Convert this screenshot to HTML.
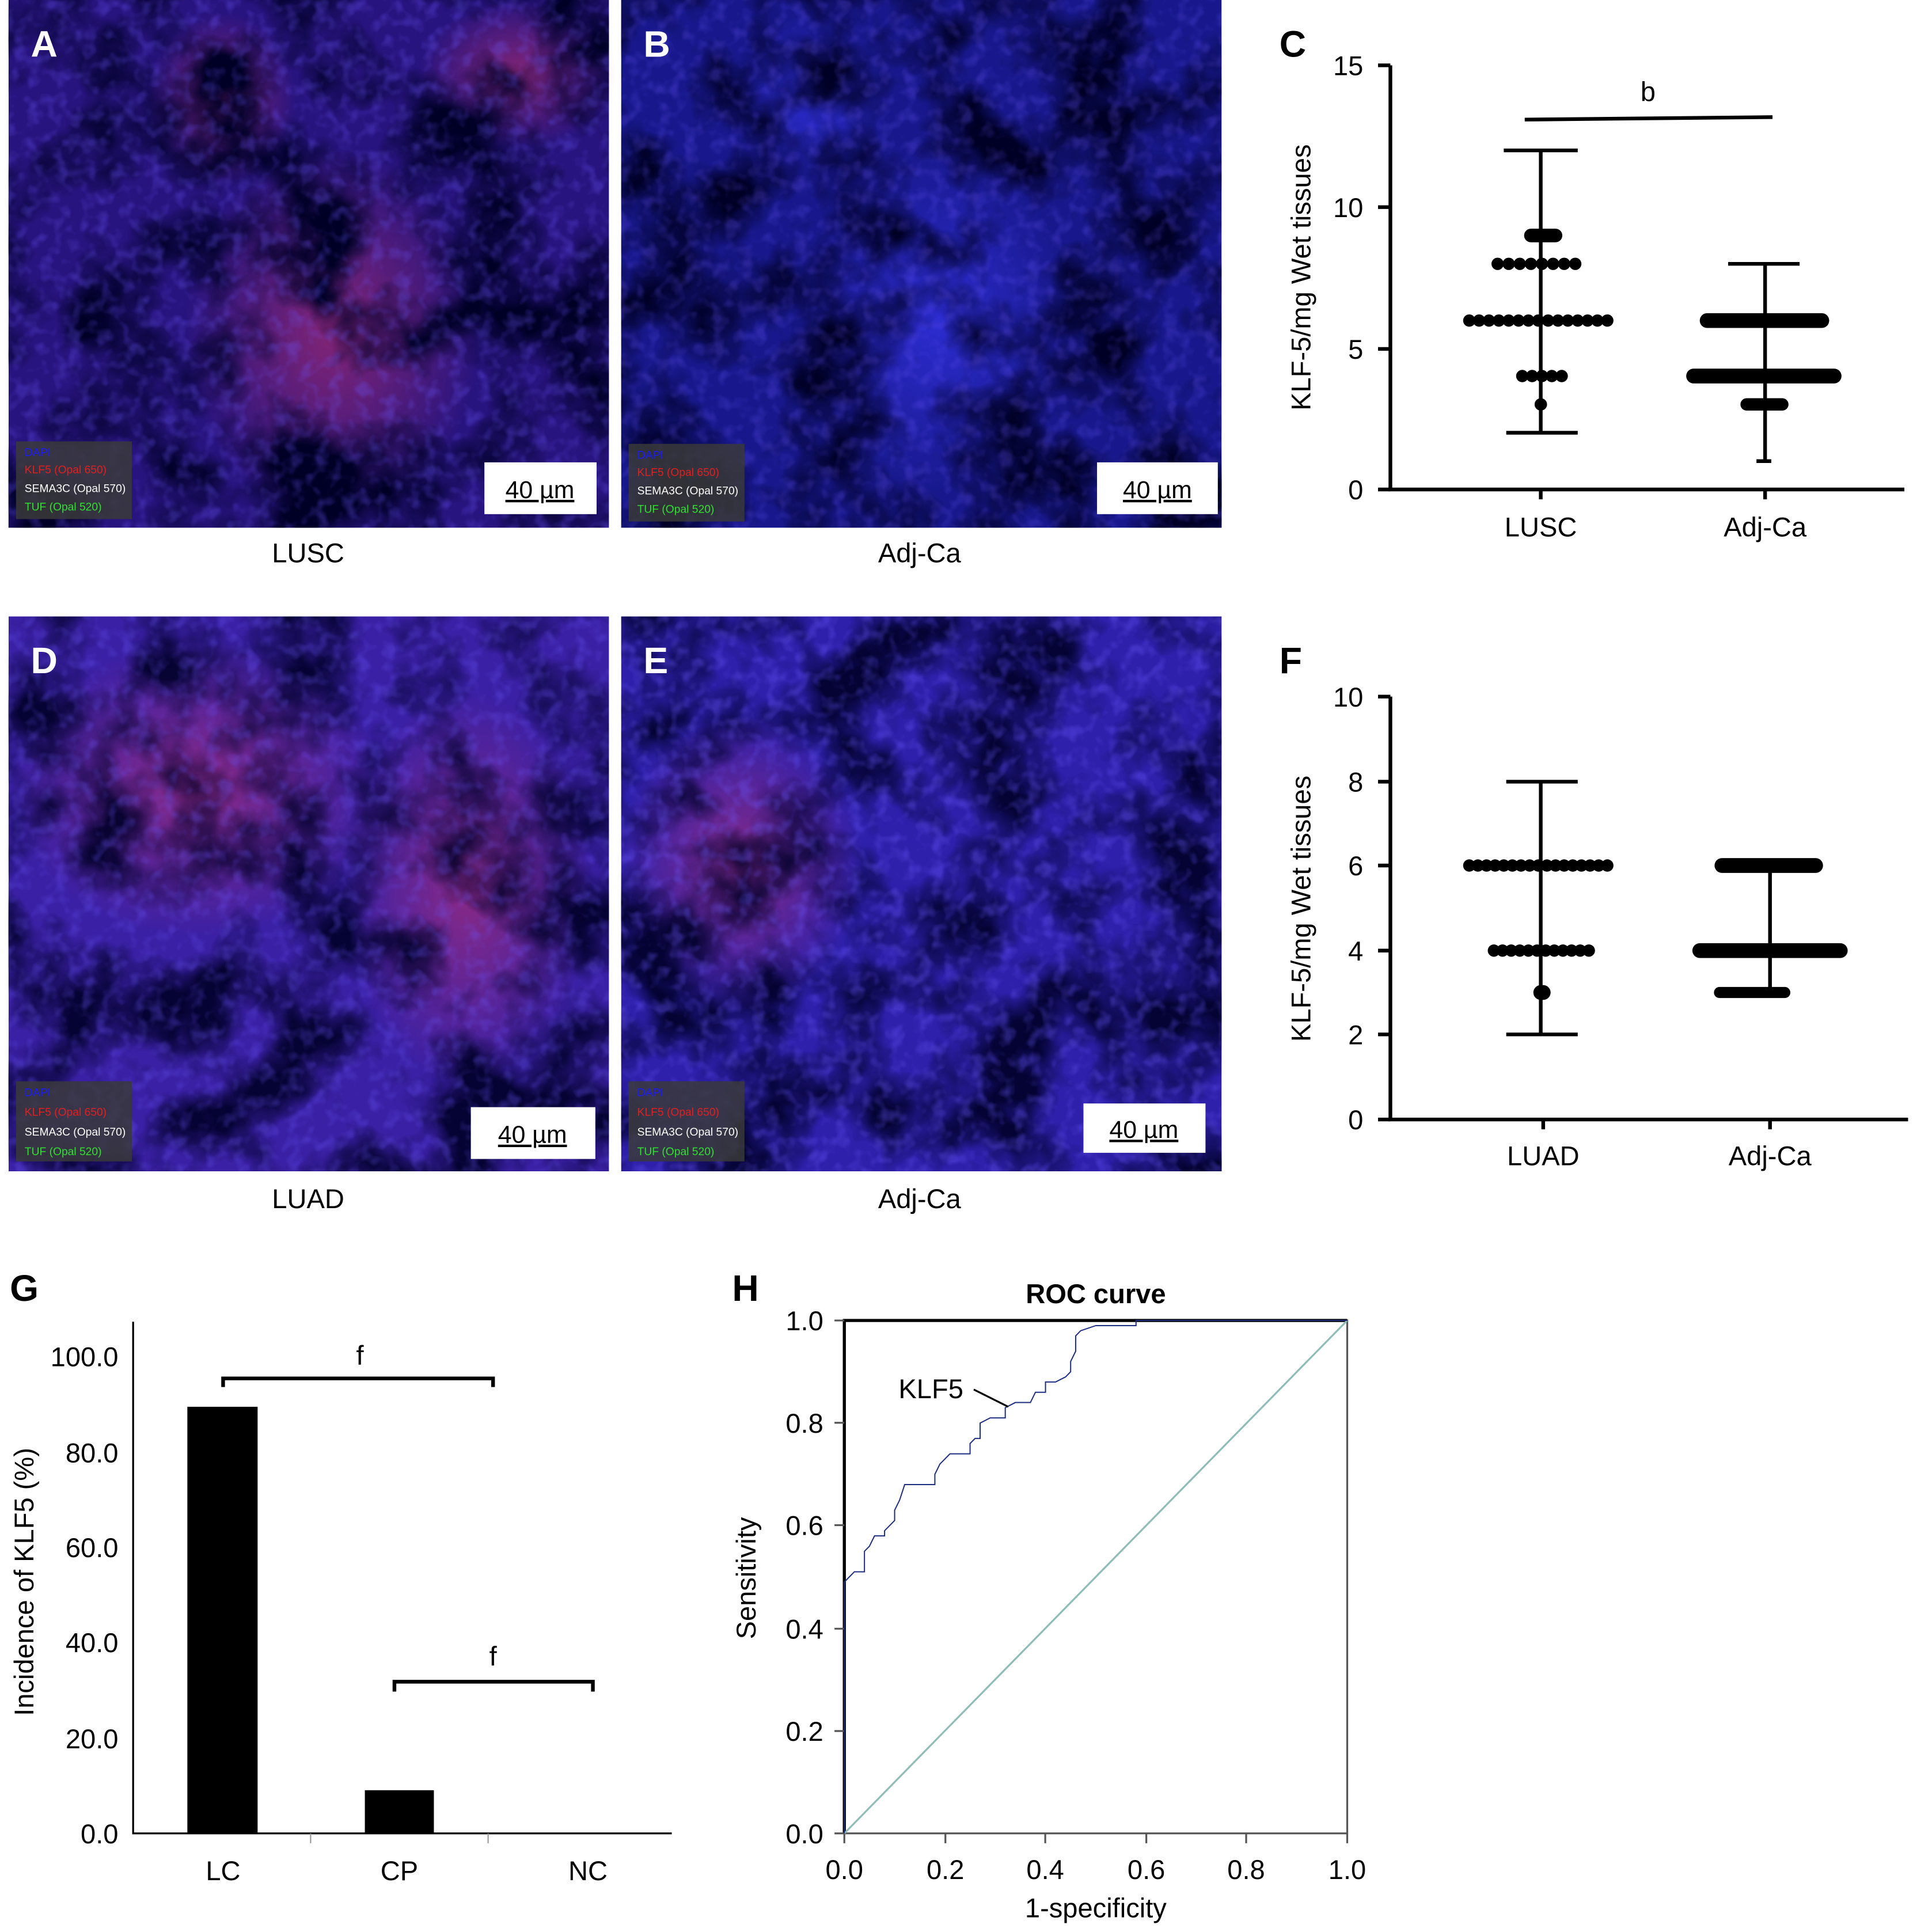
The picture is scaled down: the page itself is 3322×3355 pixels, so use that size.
<!DOCTYPE html>
<html><head><meta charset="utf-8"><style>html,body{margin:0;padding:0;background:#fff}svg{display:block}text{font-family:"Liberation Sans","DejaVu Sans",sans-serif}</style></head><body>
<svg width="3322" height="3355" viewBox="0 0 1552 1567" preserveAspectRatio="none" xmlns="http://www.w3.org/2000/svg">
<defs>
<filter id="tex" x="0" y="0" width="100%" height="100%"><feTurbulence type="fractalNoise" baseFrequency="0.014" numOctaves="4" seed="3"/><feColorMatrix values="0 0 0 0 0  0 0 0 0 0  0 0 0 0 0.02  0 0 0 -3 1.85"/></filter>
<filter id="tex2" x="0" y="0" width="100%" height="100%"><feTurbulence type="fractalNoise" baseFrequency="0.09" numOctaves="2" seed="7"/><feColorMatrix values="0 0 0 0 0.15  0 0 0 0 0.1  0 0 0 0 1  0 0 0 -3 1.6"/></filter>
<radialGradient id="rp" cx="50%" cy="50%" r="50%"><stop offset="0" stop-color="#c03070" stop-opacity="0.6"/><stop offset="1" stop-color="#c03070" stop-opacity="0"/></radialGradient>
<radialGradient id="bb" cx="50%" cy="50%" r="50%"><stop offset="0" stop-color="#3a3aff" stop-opacity="0.6"/><stop offset="1" stop-color="#3a3aff" stop-opacity="0"/></radialGradient>
</defs>
<g><rect x="7" y="0" width="487" height="428" fill="#28147e"/>
<ellipse cx="270" cy="270" rx="120" ry="150" fill="url(#rp)"/><ellipse cx="180" cy="80" rx="60" ry="70" fill="url(#rp)"/><ellipse cx="420" cy="60" rx="80" ry="60" fill="url(#rp)"/>
<rect x="7" y="0" width="487" height="428" filter="url(#tex)"/>
<rect x="7" y="0" width="487" height="428" filter="url(#tex2)" opacity="0.3"/></g>
<g><rect x="504" y="0" width="487" height="428" fill="#18188c"/>
<ellipse cx="760" cy="260" rx="110" ry="140" fill="url(#bb)"/><ellipse cx="660" cy="80" rx="60" ry="70" fill="url(#bb)"/>
<rect x="504" y="0" width="487" height="428" filter="url(#tex)"/>
<rect x="504" y="0" width="487" height="428" filter="url(#tex2)" opacity="0.25"/></g>
<g><rect x="7" y="500" width="487" height="450" fill="#3a20a4"/>
<ellipse cx="160" cy="640" rx="150" ry="120" fill="url(#rp)"/><ellipse cx="380" cy="720" rx="100" ry="160" fill="url(#rp)"/>
<rect x="7" y="500" width="487" height="450" filter="url(#tex)" opacity="0.9"/>
<rect x="7" y="500" width="487" height="450" filter="url(#tex2)" opacity="0.3"/></g>
<g><rect x="504" y="500" width="487" height="450" fill="#2e20aa"/>
<ellipse cx="600" cy="700" rx="100" ry="120" fill="url(#rp)"/>
<rect x="504" y="500" width="487" height="450" filter="url(#tex)" opacity="0.9"/>
<rect x="504" y="500" width="487" height="450" filter="url(#tex2)" opacity="0.35"/></g>
<g font-size="9">
<rect x="13" y="358" width="94" height="63" fill="#3a3a3a" opacity="0.85"/><text x="20" y="370" fill="#1a1aff">DAPI</text><text x="20" y="384" fill="#e02020">KLF5 (Opal 650)</text><text x="20" y="399" fill="#fff">SEMA3C (Opal 570)</text><text x="20" y="414" fill="#30e030">TUF (Opal 520)</text>
<rect x="510" y="360" width="94" height="63" fill="#3a3a3a" opacity="0.85"/><text x="517" y="372" fill="#1a1aff">DAPI</text><text x="517" y="386" fill="#e02020">KLF5 (Opal 650)</text><text x="517" y="401" fill="#fff">SEMA3C (Opal 570)</text><text x="517" y="416" fill="#30e030">TUF (Opal 520)</text>
<rect x="13" y="877" width="94" height="65" fill="#3a3a3a" opacity="0.85"/><text x="20" y="889" fill="#1a1aff">DAPI</text><text x="20" y="905" fill="#e02020">KLF5 (Opal 650)</text><text x="20" y="921" fill="#fff">SEMA3C (Opal 570)</text><text x="20" y="937" fill="#30e030">TUF (Opal 520)</text>
<rect x="510" y="877" width="94" height="65" fill="#3a3a3a" opacity="0.85"/><text x="517" y="889" fill="#1a1aff">DAPI</text><text x="517" y="905" fill="#e02020">KLF5 (Opal 650)</text><text x="517" y="921" fill="#fff">SEMA3C (Opal 570)</text><text x="517" y="937" fill="#30e030">TUF (Opal 520)</text>
</g>
<g font-size="20" text-anchor="middle" text-decoration="underline">
<rect x="393" y="375" width="91" height="42" fill="#fff"/><text x="438" y="404">40 µm</text>
<rect x="890" y="375" width="98" height="42" fill="#fff"/><text x="939" y="404">40 µm</text>
<rect x="382" y="898" width="101" height="42" fill="#fff"/><text x="432" y="927">40 µm</text>
<rect x="879" y="895" width="99" height="40" fill="#fff"/><text x="928" y="923">40 µm</text>
</g>
<g font-size="30" font-weight="bold">
<text x="25" y="46" fill="#fff">A</text><text x="522" y="46" fill="#fff">B</text>
<text x="25" y="546" fill="#fff">D</text><text x="522" y="546" fill="#fff">E</text>
<text x="1038" y="46">C</text><text x="1038" y="546">F</text>
<text x="8" y="1055">G</text><text x="594" y="1055">H</text>
</g>
<g font-size="22" text-anchor="middle">
<text x="250" y="456">LUSC</text><text x="746" y="456">Adj-Ca</text>
<text x="250" y="980">LUAD</text><text x="746" y="980">Adj-Ca</text>
</g>
<g stroke="#000" stroke-width="3" fill="none">
<path d="M1128 53V397H1545"/><path d="M1118 53H1128M1118 168H1128M1118 283H1128M1118 397H1128M1250 397v8M1432 397v8"/>
<path d="M1237 97L1438 95"/>
<path d="M1250 122V351M1220 122H1280M1222 351H1280M1432 214V374M1402 214H1460M1425 374H1437"/>
</g>
<g stroke="#000" stroke-linecap="round" fill="none">
<path d="M1242 191H1262" stroke-width="11"/>
<path d="M1215 214H1285" stroke-width="10" stroke-dasharray="0 9"/>
<path d="M1192 260H1308" stroke-width="10" stroke-dasharray="0 8"/>
<path d="M1235 305H1268" stroke-width="10" stroke-dasharray="0 8"/>
<path d="M1250 328H1250.1" stroke-width="10"/>
<path d="M1385 260H1478" stroke-width="12"/>
<path d="M1374 305H1488" stroke-width="12"/>
<path d="M1417 328H1446" stroke-width="10"/>
</g>
<g font-size="22" text-anchor="end"><text x="1106" y="61">15</text><text x="1106" y="176">10</text><text x="1106" y="291">5</text><text x="1106" y="405">0</text></g>
<g font-size="22" text-anchor="middle"><text x="1250" y="435">LUSC</text><text x="1432" y="435">Adj-Ca</text><text x="1337" y="82">b</text></g>
<text transform="translate(1063 225) rotate(-90)" font-size="22" text-anchor="middle">KLF-5/mg Wet tissues</text>
<g stroke="#000" stroke-width="3" fill="none">
<path d="M1128 565V908H1548"/><path d="M1118 565H1128M1118 634H1128M1118 702H1128M1118 771H1128M1118 839H1128M1118 908H1128M1252 908v8M1436 908v8"/>
<path d="M1250 634V839M1222 634H1280M1222 839H1280M1436 702V805"/>
</g>
<g stroke="#000" stroke-linecap="round" fill="none">
<path d="M1192 702H1310" stroke-width="10" stroke-dasharray="0 7"/>
<path d="M1212 771H1292" stroke-width="10" stroke-dasharray="0 7"/>
<path d="M1250 805H1252" stroke-width="12"/>
<path d="M1397 702H1473" stroke-width="12"/>
<path d="M1379 771H1493" stroke-width="12"/>
<path d="M1395 805H1448" stroke-width="9"/>
</g>
<g font-size="22" text-anchor="end"><text x="1106" y="573">10</text><text x="1106" y="642">8</text><text x="1106" y="710">6</text><text x="1106" y="779">4</text><text x="1106" y="847">2</text><text x="1106" y="916">0</text></g>
<g font-size="22" text-anchor="middle"><text x="1252" y="945">LUAD</text><text x="1436" y="945">Adj-Ca</text></g>
<text transform="translate(1063 737) rotate(-90)" font-size="22" text-anchor="middle">KLF-5/mg Wet tissues</text>
<g stroke="#000" fill="none">
<path d="M108 1072V1487H545" stroke-width="1.5"/>
<path d="M252 1487v8M396 1487v8" stroke="#999" stroke-width="1"/>
<path d="M181 1125V1118H400V1125" stroke-width="3"/>
<path d="M320 1372V1364H481V1372" stroke-width="3"/>
</g>
<rect x="152" y="1141" width="57" height="346" fill="#000"/>
<rect x="296" y="1452" width="56" height="35" fill="#000"/>
<g font-size="22" text-anchor="end"><text x="96" y="1108">100.0</text><text x="96" y="1186">80.0</text><text x="96" y="1263">60.0</text><text x="96" y="1340">40.0</text><text x="96" y="1418">20.0</text><text x="96" y="1495">0.0</text></g>
<g font-size="22" text-anchor="middle"><text x="181" y="1525">LC</text><text x="324" y="1525">CP</text><text x="477" y="1525">NC</text><text x="292" y="1107">f</text><text x="400" y="1351">f</text></g>
<text transform="translate(27 1283) rotate(-90)" font-size="22" text-anchor="middle">Incidence of KLF5 (%)</text>
<rect x="685" y="1071" width="408" height="416" fill="none" stroke="#555" stroke-width="1.5"/>
<path d="M685 1487V1071H1093" fill="none" stroke="#000" stroke-width="2.5"/>
<g stroke="#555" stroke-width="1.5"><path d="M677 1071H685M677 1154H685M677 1237H685M677 1321H685M677 1404H685M677 1487H685M685 1487v8M767 1487v8M848 1487v8M930 1487v8M1011 1487v8M1093 1487v8"/></g>
<line x1="685" y1="1487" x2="1093" y2="1071" stroke="#8fbcb8" stroke-width="1.5"/>
<g transform="translate(685 1487) scale(408 -416)"><polyline fill="none" stroke="#1c2d80" stroke-width="2" vector-effect="non-scaling-stroke" points="0,0 0,0.49 0.01,0.50 0.02,0.51 0.04,0.51 0.04,0.55 0.05,0.56 0.06,0.58 0.08,0.58 0.08,0.59 0.09,0.60 0.10,0.61 0.10,0.63 0.11,0.65 0.12,0.68 0.18,0.68 0.18,0.70 0.19,0.72 0.20,0.73 0.21,0.74 0.25,0.74 0.25,0.76 0.26,0.77 0.27,0.77 0.27,0.80 0.29,0.81 0.32,0.81 0.32,0.83 0.34,0.84 0.37,0.84 0.38,0.86 0.40,0.86 0.40,0.88 0.42,0.88 0.44,0.89 0.45,0.90 0.45,0.92 0.46,0.94 0.46,0.97 0.47,0.98 0.50,0.99 0.58,0.99 0.58,1 1,1"/></g>
<line x1="790" y1="1127" x2="818" y2="1141" stroke="#000" stroke-width="1.5"/>
<text x="729" y="1134" font-size="22">KLF5</text>
<text x="889" y="1057" font-size="22" font-weight="bold" text-anchor="middle">ROC curve</text>
<g font-size="22" text-anchor="end"><text x="668" y="1079">1.0</text><text x="668" y="1162">0.8</text><text x="668" y="1245">0.6</text><text x="668" y="1329">0.4</text><text x="668" y="1412">0.2</text><text x="668" y="1495">0.0</text></g>
<g font-size="22" text-anchor="middle"><text x="685" y="1524">0.0</text><text x="767" y="1524">0.2</text><text x="848" y="1524">0.4</text><text x="930" y="1524">0.6</text><text x="1011" y="1524">0.8</text><text x="1093" y="1524">1.0</text><text x="889" y="1555">1-specificity</text></g>
<text transform="translate(613 1280) rotate(-90)" font-size="22" text-anchor="middle">Sensitivity</text>
</svg>
</body></html>
